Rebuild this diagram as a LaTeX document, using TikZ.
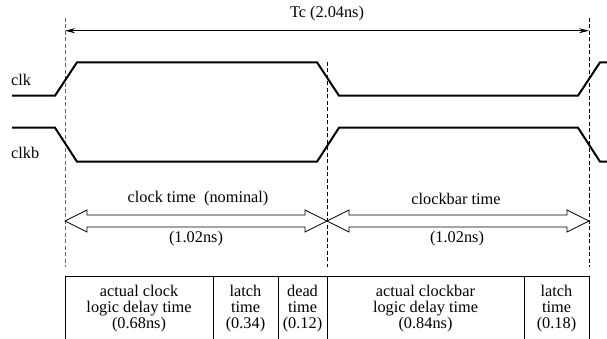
\documentclass[tikz,border=0pt]{standalone}
\usepackage{fontspec}
\setmainfont{Liberation Serif}
\usetikzlibrary{arrows.meta}
\begin{document}
\begin{tikzpicture}[x=1pt,y=-1pt,
  wave/.style={line width=2pt,line join=miter},
  guide/.style={line width=0.9pt,dash pattern=on 4pt off 2.5pt,gray!80!black},
  dim/.style={line width=1pt,{Stealth[length=10pt,width=5pt]}-{Stealth[length=10pt,width=5pt]}},
  hollow/.style={line width=0.8pt,fill=white},
  lbl/.style={font=\fontsize{16.3}{16}\selectfont,inner sep=0pt},
  cell/.style={font=\fontsize{16.3}{16}\selectfont,inner sep=0pt,align=center},
  frame/.style={line width=0.8pt}]
\useasboundingbox (0,0) rectangle (607,339);
% guide lines
\coordinate (g1t) at (65,18); \coordinate (g1b) at (65,267);
\coordinate (g2t) at (327,190); \coordinate (g2b) at (327,267);
\coordinate (g3t) at (589,18); \coordinate (g3b) at (589,267);
\draw[guide] (g1t) -- (g1b);
\draw[guide,black] (327,62) -- (g2b);
\draw[guide,black] (g3t) -- (g3b);
% Tc
\coordinate (tcL) at (65,30.7); \coordinate (tcR) at (589,30.7);
\draw[dim] (tcL) -- (tcR);
\node[lbl] (tc) at (327,14) {Tc (2.04ns)};
% clk waveforms
\draw[wave] (12,95.7) -- (55,95.7) -- (77,62.3) -- (317,62.3) -- (339,95.7) -- (578,95.7) -- (600,62.3) -- (608,62.3);
\draw[wave] (12,127.7) -- (55,127.7) -- (77,161.7) -- (317,161.7) -- (339,127.7) -- (578,127.7) -- (600,161.7) -- (608,161.7);
\node[lbl,anchor=west] (clk) at (11,80) {clk};
\node[lbl,anchor=west] (clkb) at (11,153) {clkb};
% hollow double arrows
\draw[hollow] (65,221) -- (87,210) -- (87,215) -- (305,215) -- (305,210) -- (327,221) -- (305,232) -- (305,227) -- (87,227) -- (87,232) -- cycle;
\draw[hollow] (327,221) -- (349,210) -- (349,215) -- (567,215) -- (567,210) -- (589,221) -- (567,232) -- (567,227) -- (349,227) -- (349,232) -- cycle;
\node[lbl] (ct) at (198,199) {clock time\ \ (nominal)};
\node[lbl] (ctv) at (196,239) {(1.02ns)};
\node[lbl] (cbt) at (456,199) {clockbar time};
\node[lbl] (cbv) at (457,239) {(1.02ns)};
% table
\draw[frame] (65,340) -- (65,276) -- (589,276) -- (589,340);
\draw[frame] (213,276) -- (213,340);
\draw[frame] (278,276) -- (278,340);
\draw[frame] (327,276) -- (327,340);
\draw[frame] (524,276) -- (524,340);
\node[cell] (c1) at (139,309) {actual clock\\logic delay time\\(0.68ns)};
\node[cell] (c2) at (245.5,309) {latch\\time\\(0.34)};
\node[cell] (c3) at (302.5,309) {dead\\time\\(0.12)};
\node[cell] (c4) at (425.5,309) {actual clockbar\\logic delay time\\(0.84ns)};
\node[cell] (c5) at (556.5,309) {latch\\time\\(0.18)};
\end{tikzpicture}
\end{document}
